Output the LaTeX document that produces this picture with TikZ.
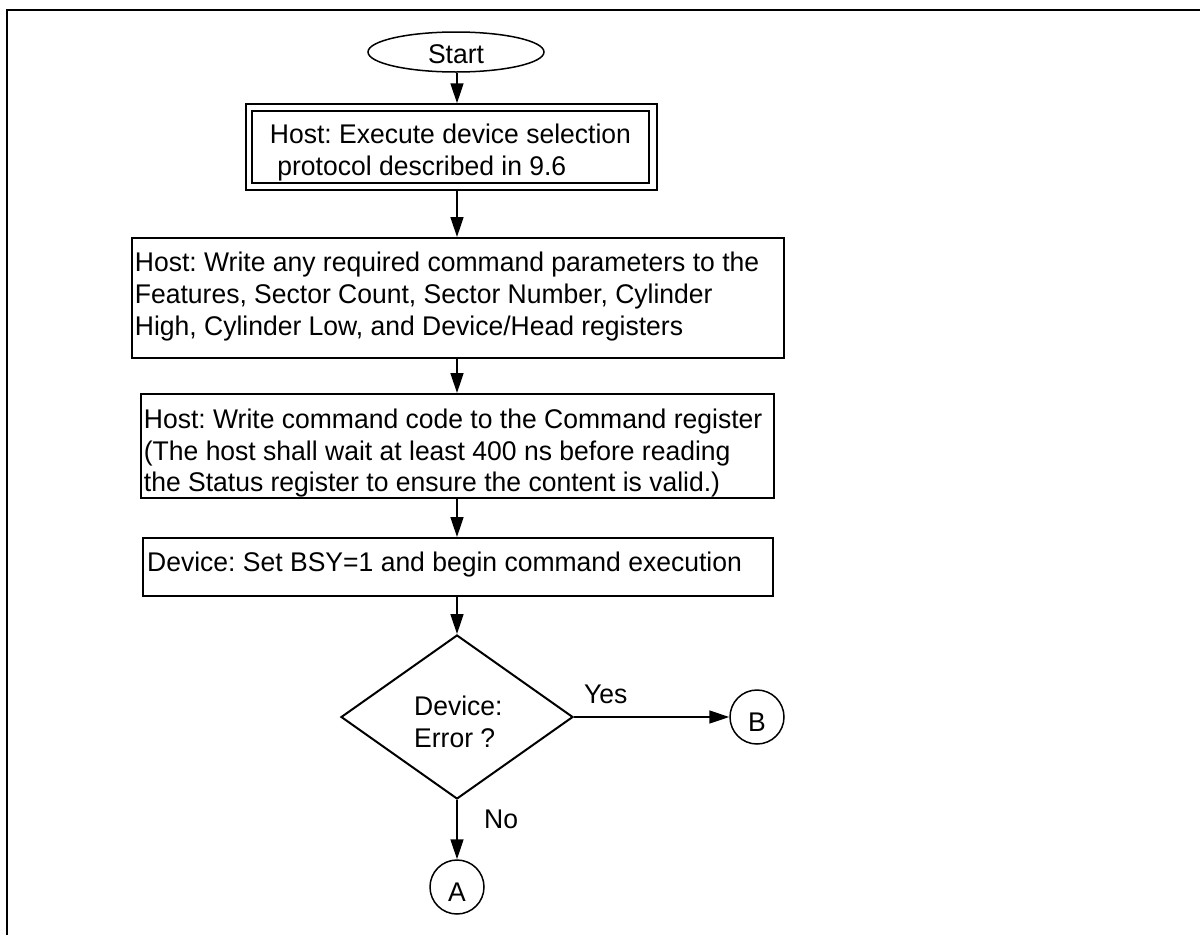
\documentclass[tikz,border=0pt]{standalone}
\usepackage{fontspec}
\setmainfont[FakeStretch=0.982]{Liberation Sans}
\usetikzlibrary{shapes.geometric,arrows.meta,calc}
\frenchspacing
\begin{document}
\begin{tikzpicture}[x=1pt,y=-1pt,
  every node/.style={font=\fontsize{27}{31.7}\selectfont\frenchspacing, inner sep=0pt},
  box/.style={draw, line width=2pt, rectangle},
  thinbox/.style={draw, line width=1.5pt, rectangle},
  txt/.style={anchor=north west, align=left},
  conn/.style={circle, draw, line width=1.5pt, minimum size=54pt, text height=28pt, text depth=0pt},
  arr/.style={line width=1.5pt, -{Triangle[length=20pt,width=13pt]}},
  lbl/.style={anchor=base west}]
\useasboundingbox (0,0) rectangle (1200,935);
% frame
\draw[line width=2pt] (7,935) -- (7,10) -- (1200,10);
\coordinate (axis) at (457,0);
% start
\node[ellipse, draw, line width=1.5pt, minimum width=176pt, minimum height=40pt, text height=22.6pt, text depth=0pt] (start) at (456,52) {Start};
% double box
\node[thinbox, minimum width=411pt, minimum height=86pt] (selo) at (451.5,147) {};
\node[thinbox, minimum width=397pt, minimum height=72pt] (seli) at (450.5,147) {};
\node[txt] (seltxt) at (269.7,123.6) {Host: Execute device selection\\\hspace*{0.278em}protocol described in 9.6};
% box 2
\node[box, minimum width=652pt, minimum height=120pt] (b2) at (458,298) {};
\node[txt] (b2txt) at (134.7,252) {Host: Write any required command parameters to the\\Features, Sector Count, Sector Number, Cylinder\\High, Cylinder Low, and Device/Head registers};
% box 3
\node[box, minimum width=633pt, minimum height=104pt] (b3) at (457.5,446) {};
\node[txt] (b3txt) at (143.7,408.6) {Host: Write command code to the Command register\\(The host shall wait at least 400 ns before reading\\the Status register to ensure the content is valid.)};
% box 4
\node[box, minimum width=630pt, minimum height=58pt] (b4) at (458,567) {};
\node[txt] (b4txt) at (147,552) {Device: Set BSY=1 and begin command execution};
% decision
\node[diamond, draw, line width=2pt, minimum width=232pt, minimum height=164pt] (dec) at (457,717) {};
\node[txt] (dectxt) at (414,696) {Device:\\Error ?};
% connectors
\node[conn] (B) at (757,717) {B};
\node[conn] (A) at (457,887) {A};
\draw[arr] (axis |- start.south) -- (axis |- selo.north);
\draw[arr] (axis |- selo.south) -- (axis |- b2.north);
\draw[arr] (axis |- b2.south) -- (axis |- b3.north);
\draw[arr] (axis |- b3.south) -- (axis |- b4.north);
\draw[arr] (axis |- b4.south) -- (dec.north);
\draw[arr] (dec.south) -- (A.north);
\draw[arr] (dec.east) -- (B.west);
\node[lbl] (yes) at (584,703.3) {Yes};
\node[lbl] (no) at (484,828.3) {No};
\end{tikzpicture}
\end{document}
